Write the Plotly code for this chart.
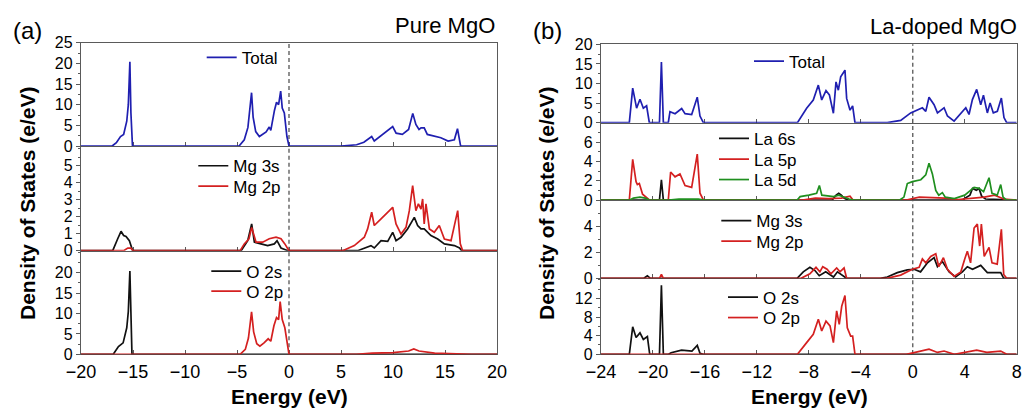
import plotly.graph_objects as go

# ---------------- data: (energy eV, DOS e/eV) ----------------
pure_total = [(-20, 0), (-17.0, 0), (-16.6, 0.8), (-16.2, 2.3), (-15.9, 2.8), (-15.6, 6.0), (-15.45, 10.0),
              (-15.3, 20.4), (-15.2, 8.0), (-15.05, 0), (-4.8, 0), (-4.3, 1.5), (-3.95, 4.5), (-3.75, 9.0),
              (-3.6, 12.9), (-3.45, 7.0), (-3.2, 3.5), (-2.85, 2.3), (-2.5, 3.0), (-2.2, 3.4), (-1.9, 4.6),
              (-1.75, 3.8), (-1.4, 8.6), (-1.2, 10.6), (-1.0, 10.0), (-0.8, 13.3), (-0.65, 9.2), (-0.45, 8.0),
              (-0.2, 2.3), (0.0, 0), (5.0, 0), (6.5, 0.3), (7.2, 0.9), (7.95, 2.3), (8.2, 1.2), (9.0, 2.8),
              (9.97, 4.7), (10.3, 3.1), (10.9, 2.8), (11.5, 4.0), (11.9, 7.9), (12.2, 5.2), (12.5, 4.0),
              (12.7, 4.4), (13.0, 4.4), (13.3, 2.8), (14.0, 2.4), (14.6, 2.0), (15.3, 1.2), (15.9, 1.5),
              (16.2, 4.2), (16.5, 0), (20, 0)]
pure_mg3s = [(-20, 0), (-16.95, 0), (-16.47, 0.7), (-16.15, 1.14), (-15.9, 0.89), (-15.67, 0.83), (-15.35, 0.59),
             (-15.03, 0), (-4.6, 0), (-3.97, 0.59), (-3.59, 1.57), (-3.33, 0.5), (-2.7, 0.4), (-2.05, 0.3),
             (-1.41, 0.4), (-1.15, 0.59), (-0.77, 0.16), (-0.1, 0), (6.6, 0), (7.88, 0.3), (8.2, 0.16),
             (8.85, 0.59), (9.49, 0.55), (9.97, 1.08), (10.29, 0.59), (10.77, 0.79), (11.4, 1.28), (12.05, 1.96),
             (12.37, 1.48), (12.69, 1.28), (13.0, 1.28), (13.65, 0.89), (14.3, 0.69), (14.94, 0.4), (15.9, 0.3),
             (16.4, 0.16), (16.6, 0), (20, 0)]
pure_mg2p = [(-20, 0), (-15.9, 0), (-15.5, 0.15), (-15.2, 0.15), (-15.0, 0), (-4.7, 0), (-4.3, 0.4), (-3.85, 0.7),
             (-3.59, 1.37), (-3.17, 0.5), (-2.53, 0.5), (-1.9, 0.7), (-1.25, 0.8), (-0.77, 0.7), (-0.4, 0.4),
             (0, 0), (5.16, 0), (6.28, 0.3), (7.24, 0.79), (7.56, 1.28), (7.95, 2.26), (8.2, 1.48), (8.85, 1.87),
             (9.49, 2.26), (9.97, 2.55), (10.29, 1.57), (10.77, 0.98), (11.25, 1.37), (11.57, 2.35), (11.89, 3.82),
             (12.2, 2.35), (12.44, 2.75), (12.69, 2.45), (12.85, 3.04), (13.0, 1.57), (13.17, 2.75), (13.5, 1.28),
             (13.97, 1.08), (14.45, 1.48), (14.94, 0.69), (15.58, 0.59), (16.22, 2.35), (16.47, 0.4), (16.7, 0),
             (20, 0)]
pure_o2s = [(-20, 0), (-16.9, 0), (-16.4, 1.9), (-15.95, 2.8), (-15.6, 6.5), (-15.45, 10.5), (-15.3, 20.4),
            (-15.2, 8.0), (-15.1, 0), (20, 0)]
pure_o2p = [(-20, 0), (-4.7, 0), (-4.2, 1.2), (-3.9, 4.0), (-3.6, 10.4), (-3.4, 5.5), (-3.1, 2.6), (-2.8, 2.0),
            (-2.4, 2.8), (-2.0, 3.8), (-1.75, 3.2), (-1.45, 7.0), (-1.2, 9.0), (-1.0, 8.5), (-0.85, 12.9),
            (-0.65, 8.5), (-0.4, 6.5), (-0.15, 2.0), (0, 0), (6.5, 0), (8.0, 0.3), (10.0, 0.4), (11.5, 0.8),
            (12.0, 1.3), (12.5, 0.8), (14.0, 0.3), (16.5, 0.1), (17.5, 0), (20, 0)]

la_total = [(-24, 0), (-21.82, 0), (-21.56, 8.8), (-21.26, 3.7), (-21.0, 6.0), (-20.74, 3.7), (-20.49, 4.3),
            (-20.28, 0), (-19.5, 0), (-19.35, 15.5), (-19.2, 0), (-18.82, 0), (-18.69, 2.8), (-18.3, 2.3),
            (-17.79, 3.6), (-17.53, 2.3), (-17.02, 2.1), (-16.59, 6.5), (-16.38, 1.7), (-16.12, 0), (-8.88, 0),
            (-8.17, 3.7), (-7.66, 5.8), (-7.27, 9.6), (-7.01, 5.8), (-6.68, 8.2), (-6.42, 7.1), (-6.11, 2.4),
            (-5.91, 10.4), (-5.73, 8.3), (-5.55, 11.7), (-5.22, 13.4), (-5.09, 6.2), (-4.83, 3.2), (-4.63, 4.3),
            (-4.45, 0), (-1.96, 0), (-0.93, 0.6), (-0.16, 2.5), (0.23, 3.1), (0.74, 3.8), (1.0, 2.9), (1.25, 6.5),
            (1.64, 4.6), (1.9, 2.5), (2.41, 3.8), (2.67, 1.7), (3.18, 0.4), (3.82, 2.9), (4.08, 3.8), (4.33, 2.1),
            (4.59, 5.9), (4.92, 8.5), (5.23, 4.6), (5.44, 7.0), (5.74, 2.5), (5.95, 5.0), (6.2, 2.5), (6.51, 2.9),
            (6.82, 6.3), (7.02, 1.3), (7.23, 0), (8, 0)]
la_la6s = [(-24, 0), (-19.5, 0), (-19.35, 2.1), (-19.2, 0), (-6.2, 0), (-5.9, 0.5), (-5.7, 0.7), (-5.5, 0.5),
           (-5.3, 0.2), (-5.0, 0), (3.8, 0), (4.4, 0.5), (4.6, 1.2), (4.9, 1.0), (5.1, 1.2), (5.3, 0.4),
           (5.6, 0.1), (8, 0)]
la_la5p = [(-24, 0), (-21.82, 0), (-21.56, 4.2), (-21.3, 1.9), (-21.2, 1.6), (-21.05, 1.7), (-20.8, 0.6),
           (-20.5, 0.2), (-20.28, 0), (-18.82, 0), (-18.64, 2.9), (-18.3, 2.4), (-17.92, 2.7), (-17.53, 1.5),
           (-17.02, 1.3), (-16.59, 4.75), (-16.38, 0.7), (-16.12, 0), (-8.5, 0), (-7.5, 0.2), (-6.5, 0.15),
           (-5.5, 0.2), (-4.83, 0.4), (-4.6, 0), (-0.5, 0), (0.5, 0.3), (1.5, 0.25), (2.5, 0.2), (3.5, 0.05),
           (4.5, 0.2), (5.5, 0.3), (6.3, 0.5), (7.0, 0.1), (8, 0)]
la_la5d = [(-24, 0), (-21.8, 0), (-21.5, 0.2), (-21.0, 0.3), (-20.6, 0.2), (-20.3, 0), (-18.8, 0), (-18.0, 0.1),
           (-16.5, 0.1), (-16.1, 0), (-8.9, 0), (-8.67, 0.35), (-8.0, 0.5), (-7.4, 0.7), (-7.19, 1.5), (-7.0, 0.5),
           (-6.1, 0.35), (-5.7, 0.5), (-4.9, 0.1), (-4.5, 0), (-1.0, 0), (-0.68, 0.3), (-0.42, 1.7), (-0.03, 1.9),
           (0.62, 2.1), (1.0, 2.6), (1.25, 3.8), (1.51, 2.7), (1.77, 1.0), (2.0, 0.5), (2.28, 0.76), (2.5, 0.3),
           (3.2, 0.15), (4.0, 0.5), (4.72, 1.3), (5.1, 1.2), (5.45, 0.86), (5.87, 2.3), (6.1, 0.68), (6.5, 0.5),
           (6.77, 1.6), (6.95, 0.3), (7.2, 0), (8, 0)]
la_mg3s = [(-24, 0), (-20.7, 0), (-20.43, 0.2), (-20.2, 0), (-8.9, 0), (-8.43, 0.5), (-7.92, 0.85), (-7.53, 0.6),
           (-7.2, 0.2), (-6.7, 0.5), (-6.1, 0.1), (-5.8, 0.5), (-5.1, 0), (-2.5, 0), (-1.96, 0.1), (-1.19, 0.44),
           (-0.42, 0.65), (0.1, 0.7), (0.6, 0.5), (1.13, 1.2), (1.64, 1.6), (1.9, 0.9), (2.28, 1.3), (2.8, 0.5),
           (3.3, 0.1), (3.82, 0.5), (4.2, 0.9), (4.6, 0.7), (5.23, 1.0), (5.74, 0.44), (6.77, 0.44), (7.0, 0),
           (8, 0)]
la_mg2p = [(-24, 0), (-19.5, 0), (-19.35, 0.3), (-19.2, 0), (-8.6, 0), (-7.92, 0.35), (-7.45, 0.85), (-7.15, 0.5),
           (-6.93, 0.9), (-6.6, 0.7), (-6.3, 0.35), (-5.86, 0.8), (-5.6, 0.5), (-5.29, 0.8), (-5.09, 0), (-2.0, 0),
           (-0.93, 0.25), (-0.03, 0.7), (0.49, 0.85), (0.74, 1.5), (1.0, 1.2), (1.38, 1.7), (1.77, 1.9), (2.0, 0.9),
           (2.36, 1.6), (2.67, 0.7), (3.18, 0.15), (3.7, 0.5), (4.0, 1.5), (4.2, 2.1), (4.45, 1.2), (4.72, 3.9),
           (4.97, 4.2), (5.15, 2.5), (5.28, 4.2), (5.5, 1.7), (5.87, 2.4), (6.1, 1.2), (6.5, 1.1), (6.82, 3.8),
           (7.0, 0.3), (7.23, 0), (8, 0)]
la_o2s = [(-24, 0), (-21.82, 0), (-21.56, 5.9), (-21.3, 3.6), (-21.0, 4.6), (-20.74, 3.2), (-20.43, 3.8),
          (-20.25, 0), (-19.5, 0), (-19.35, 14.8), (-19.2, 0), (-18.8, 0), (-18.6, 0.35), (-17.8, 0.9),
          (-17.0, 0.7), (-16.59, 1.9), (-16.38, 0.2), (-16.12, 0), (8, 0)]
la_o2p = [(-24, 0), (-8.88, 0), (-8.17, 2.5), (-7.66, 4.3), (-7.27, 7.5), (-7.01, 5.0), (-6.68, 7.1), (-6.37, 6.1),
          (-6.11, 2.5), (-5.86, 9.3), (-5.66, 6.4), (-5.47, 10.3), (-5.22, 12.6), (-5.04, 5.7), (-4.78, 3.9),
          (-4.63, 3.9), (-4.45, 0), (-0.5, 0), (0.1, 0.35), (1.25, 1.1), (1.9, 0.4), (2.41, 0.7), (3.2, 0),
          (4.0, 0.4), (4.92, 0.9), (5.7, 0.4), (6.77, 0.7), (7.23, 0), (8, 0)]

left_x_ticks = [-20, -15, -10, -5, 0, 5, 10, 15, 20]
right_x_ticks = [-24, -20, -16, -12, -8, -4, 0, 4, 8]

BLUE = "#1f1fb0"
RED = "#d42020"
BLACK = "#111111"
GREEN = "#1f8f1f"
FONT = "Liberation Sans, Arial, sans-serif"
AXC = "#5a5a5a"

W, H = 1023, 408
def px_x(a, b):
    return [a / W, b / W]
def px_y(top, bot):
    return [1 - bot / H, 1 - top / H]

LX = px_x(81, 497)
RX = px_x(601, 1016.7)
# curves: (name, data, colour, legend text-start x px, legend row centre y px)
subplots = [
    dict(xr=[-20, 20], xt=left_x_ticks, yr=[0, 25], yt=[0, 5, 10, 15, 20, 25], dx=LX, dy=px_y(42.7, 146),
         curves=[("Total", pure_total, BLUE, 242.7, 57.3)], bottom=False, top=True),
    dict(xr=[-20, 20], xt=left_x_ticks, yr=[0, 6.15], yt=[0, 1, 2, 3, 4, 5], dx=LX, dy=px_y(146, 250.7),
         curves=[("Mg 3s", pure_mg3s, BLACK, 234.3, 165.7), ("Mg 2p", pure_mg2p, RED, 234.3, 186)],
         bottom=False, top=False),
    dict(xr=[-20, 20], xt=left_x_ticks, yr=[0, 25.4], yt=[0, 5, 10, 15, 20], dx=LX, dy=px_y(250.7, 354.3),
         curves=[("O 2s", pure_o2s, BLACK, 247.3, 271), ("O 2p", pure_o2p, RED, 247.3, 291)],
         bottom=True, top=False),
    dict(xr=[-24, 8], xt=right_x_ticks, yr=[0, 20], yt=[0, 5, 10, 15, 20], dx=RX, dy=px_y(44.3, 122.7),
         curves=[("Total", la_total, BLUE, 790, 61)], bottom=False, top=True),
    dict(xr=[-24, 8], xt=right_x_ticks, yr=[0, 8], yt=[0, 2, 4, 6], dx=RX, dy=px_y(122.7, 200),
         curves=[("La 6s", la_la6s, BLACK, 755, 138.3), ("La 5p", la_la5p, RED, 755, 159),
                 ("La 5d", la_la5d, GREEN, 755, 179.5)], bottom=False, top=False),
    dict(xr=[-24, 8], xt=right_x_ticks, yr=[0, 6.07], yt=[0, 2, 4], dx=RX, dy=px_y(200, 278.3),
         curves=[("Mg 3s", la_mg3s, BLACK, 757.3, 220.5), ("Mg 2p", la_mg2p, RED, 757.3, 241)],
         bottom=False, top=False),
    dict(xr=[-24, 8], xt=right_x_ticks, yr=[0, 16.3], yt=[0, 4, 8, 12], dx=RX, dy=px_y(278.3, 354.3),
         curves=[("O 2s", la_o2s, BLACK, 764, 297), ("O 2p", la_o2p, RED, 764, 317.5)],
         bottom=True, top=False),
]
LEG_TEXT_OFF = 41    # legend left edge -> text start (px)
LEG_ROW_OFF = 17.5   # legend top edge -> row centre (px)

fig = go.Figure()
layout = dict(template="none", width=W, height=H, margin=dict(l=0, r=0, t=0, b=0, autoexpand=False),
              paper_bgcolor="white", plot_bgcolor="white", showlegend=True,
              font=dict(family=FONT, color="black", size=18), shapes=[], annotations=[])

leg_n = 0
for i, sp in enumerate(subplots, start=1):
    sfx = "" if i == 1 else str(i)
    xa, ya = f"x{sfx}", f"y{sfx}"
    for name, pts, col, tx, ty in sp["curves"]:
        leg_n += 1
        lg = "legend" if leg_n == 1 else f"legend{leg_n}"
        fig.add_trace(go.Scatter(x=[p[0] for p in pts], y=[p[1] for p in pts], mode="lines", name=name,
                                 line=dict(color=col, width=1.7), xaxis=xa, yaxis=ya, legend=lg,
                                 showlegend=True, hoverinfo="skip"))
        layout[lg] = dict(x=(tx - LEG_TEXT_OFF) / W, y=1 - (ty - LEG_ROW_OFF) / H, xanchor="left",
                          yanchor="top", bgcolor="rgba(0,0,0,0)", borderwidth=0,
                          font=dict(size=17, family=FONT, color="black"), itemclick=False)
    ystep = sp["yt"][1] - sp["yt"][0]
    layout[f"xaxis{sfx}"] = dict(domain=sp["dx"], range=sp["xr"], anchor=ya, showline=True, linecolor=AXC,
                                 linewidth=1.3, mirror=sp["top"], ticks="inside", ticklen=4, tickcolor=AXC,
                                 tickvals=sp["xt"], showticklabels=sp["bottom"], showgrid=False, zeroline=False,
                                 tickfont=dict(size=18), ticklabelstandoff=1, automargin=False,
                                 layer="below traces")
    layout[f"yaxis{sfx}"] = dict(domain=sp["dy"], range=sp["yr"], anchor=xa, showline=True, linecolor=AXC,
                                 linewidth=1.3, mirror=True, ticks="outside", ticklen=4, tickcolor=AXC,
                                 tickvals=sp["yt"], showgrid=False, zeroline=False, tickfont=dict(size=16),
                                 automargin=False, layer="below traces",
                                 minor=dict(ticks="outside", ticklen=2, tickcolor=AXC, dtick=ystep / 2,
                                            tick0=0, showgrid=False))
    layout["shapes"].append(dict(type="line", xref=xa, yref=f"{ya} domain", x0=0, x1=0, y0=0, y1=1,
                                 line=dict(color="#555555", width=1.3, dash="4px,3px"), layer="below"))

def ann(text, x, y, size, bold=False, xanchor="center", angle=0):
    layout["annotations"].append(dict(text=f"<b>{text}</b>" if bold else text, x=x / W, y=1 - y / H,
                                      xref="paper", yref="paper", showarrow=False, xanchor=xanchor,
                                      yanchor="middle", textangle=angle,
                                      font=dict(size=size, family=FONT, color="black")))

ann("(a)", 27, 31, 24)
ann("(b)", 547, 31, 24)
ann("Pure MgO", 497, 25, 22, xanchor="right")
ann("La-doped MgO", 1019, 26, 22, xanchor="right")
ann("Energy (eV)", 289, 396, 21, bold=True)
ann("Energy (eV)", 809, 396, 21, bold=True)
ann("Density of States (e/eV)", 27, 204, 21, bold=True, angle=-90)
ann("Density of States (e/eV)", 546, 204, 21, bold=True, angle=-90)

fig.update_layout(**layout)
fig.write_html("out.html")
